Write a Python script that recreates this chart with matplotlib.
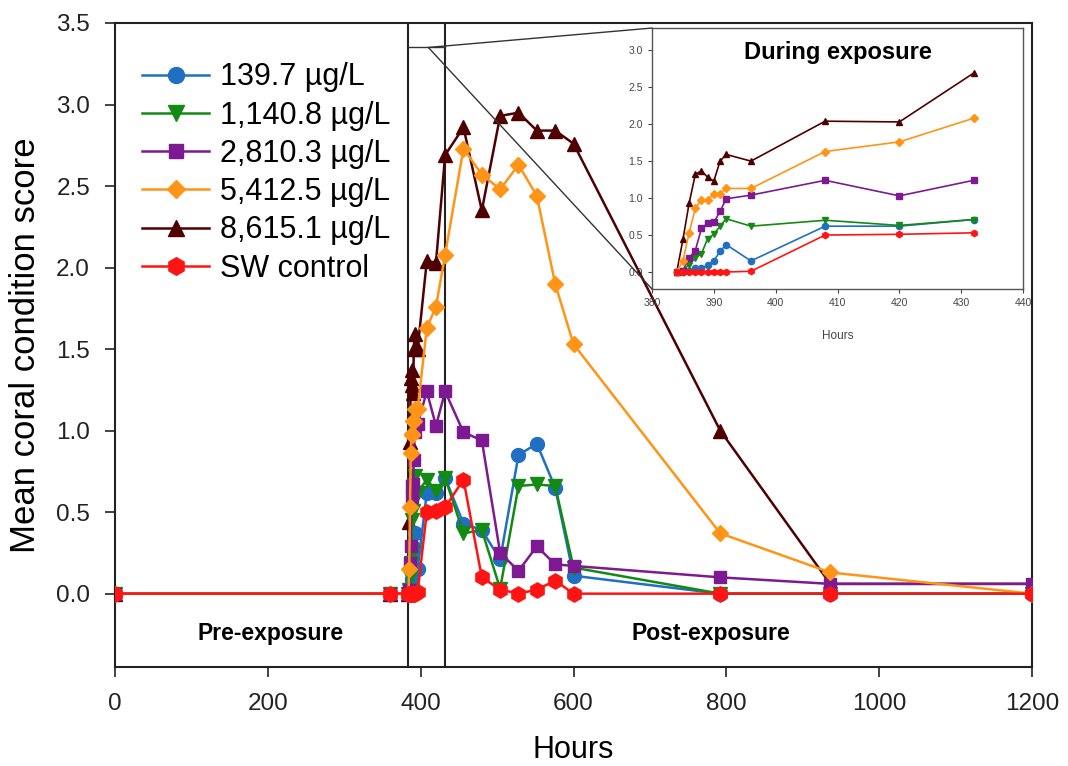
import numpy as np
import matplotlib
matplotlib.use("Agg")
import matplotlib.pyplot as plt
from matplotlib.patches import ConnectionPatch

plt.rcParams['font.family'] = ['Liberation Sans', 'DejaVu Sans']

# sampling times (h)
hours = np.array([0, 360, 384, 385, 386, 387, 388, 389, 390, 391, 392, 396, 408,
                  420, 432, 456, 480, 504, 528, 552, 576, 600, 792, 936, 1200])

blue = [0, 0, 0, 0, 0.02, 0.05, 0.05, 0.09, 0.15, 0.28, 0.37, 0.15, 0.62,
        0.62, 0.71, 0.43, 0.39, 0.21, 0.85, 0.92, 0.65, 0.11, 0, 0, 0]
green = [0, 0, 0, 0.02, 0.10, 0.19, 0.25, 0.45, 0.51, 0.62, 0.72, 0.62, 0.70,
         0.63, 0.71, 0.37, 0.39, 0.03, 0.66, 0.67, 0.66, 0.16, 0, 0, 0]
purple = [0, 0, 0, 0.02, 0.19, 0.29, 0.59, 0.66, 0.67, 0.82, 0.99, 1.04, 1.24,
          1.03, 1.24, 0.99, 0.94, 0.25, 0.14, 0.29, 0.18, 0.17, 0.10, 0.06, 0.06]
orange = [0, 0, 0, 0.15, 0.53, 0.86, 0.98, 0.97, 1.06, 1.06, 1.13, 1.13, 1.63,
          1.76, 2.08, 2.73, 2.57, 2.48, 2.63, 2.44, 1.90, 1.53, 0.37, 0.13, 0]
brown = [0, 0, 0, 0.44, 0.93, 1.32, 1.37, 1.28, 1.23, 1.50, 1.59, 1.50, 2.04,
         2.03, 2.69, 2.86, 2.35, 2.93, 2.95, 2.84, 2.84, 2.76, 1.00, 0.06, 0.06]
red = [0, 0, 0, 0, 0, 0, 0, 0, 0, 0, 0, 0.01, 0.50,
       0.51, 0.53, 0.70, 0.10, 0.025, 0, 0.025, 0.08, 0, 0, 0, 0]

labels = ['139.7 µg/L', '1,140.8 µg/L', '2,810.3 µg/L', '5,412.5 µg/L',
          '8,615.1 µg/L', 'SW control']
series = [blue, green, purple, orange, brown, red]
colors = ['#1f6fc3', '#138a13', '#7d1a91', '#ff9416', '#4f0000', '#ff1414']
markers = ['o', 'v', 's', 'D', '^', 'h']
msizes = [10, 10, 9, 8, 10, 11]
zorders = [4, 5, 6, 7, 3, 8]

fig = plt.figure(figsize=(10.68, 7.66), dpi=100)
ax = fig.add_axes([0.1077, 0.1292, 0.8586, 0.8408])

for y, lab, c, m, ms, z in zip(series, labels, colors, markers, msizes, zorders):
    ax.plot(hours, y, color=c, marker=m, ms=ms, lw=1.8, label=lab, zorder=z,
            markeredgecolor=c)

ax.axvline(384, color='#222222', lw=1.5, zorder=2)
ax.axvline(432, color='#222222', lw=1.5, zorder=2)

ax.set_xlim(0, 1200)
ax.set_ylim(-0.45, 3.5)
ax.set_xticks([0, 200, 400, 600, 800, 1000, 1200])
ax.set_yticks(np.arange(0, 3.51, 0.5))
ax.yaxis.set_major_formatter(matplotlib.ticker.FormatStrFormatter('%.1f'))
ax.tick_params(direction='out', length=7, width=1.2, labelsize=17.5,
               colors='#222222')
ax.tick_params(axis='y', pad=11)
ax.tick_params(axis='x', pad=12)
for s in ax.spines.values():
    s.set_linewidth(1.5)
    s.set_color('#222222')
ax.set_xlabel('Hours', fontsize=22, labelpad=14)
ax.set_ylabel('Mean coral condition score', fontsize=25, labelpad=10)

ax.text(203, -0.245, 'Pre-exposure', fontsize=16.5, fontweight='bold',
        ha='center', va='center')
ax.text(780, -0.245, 'Post-exposure', fontsize=16.5, fontweight='bold',
        ha='center', va='center')

ax.legend(loc='upper left', bbox_to_anchor=(0.016, 0.958), frameon=False,
          fontsize=22, handlelength=2.2, labelspacing=0.27, handletextpad=0.35,
          borderaxespad=0, markerscale=1.15)

# zoom marker
ax.plot([384, 432], [3.35, 3.35], color='#333333', lw=1, zorder=2)

# inset
axin = fig.add_axes([0.6105, 0.6227, 0.3474, 0.3407])
during = (hours >= 384) & (hours <= 432)
for y, c, m, z in zip(series, colors, markers, zorders):
    axin.plot(hours[during], np.array(y)[during], color=c, marker=m, ms=4.5,
              lw=1.2, zorder=z, markeredgecolor=c)
axin.set_xlim(380, 440)
axin.set_ylim(-0.23, 3.3)
axin.set_xticks([380, 390, 400, 410, 420, 430, 440])
axin.set_yticks(np.arange(0, 3.01, 0.5))
axin.yaxis.set_major_formatter(matplotlib.ticker.FormatStrFormatter('%.1f'))
axin.tick_params(direction='out', length=3, width=0.8, labelsize=7.5,
                 colors='#444444')
for s in axin.spines.values():
    s.set_linewidth(1)
    s.set_color('#555555')
axin.set_xlabel('Hours', fontsize=8.5, color='#444444', labelpad=16)
axin.set_title('During exposure', fontsize=17, fontweight='bold', y=0.85)

for ya in (1, 0):
    con = ConnectionPatch(xyA=(410, 3.35), coordsA='data', axesA=ax,
                          xyB=(0, ya), coordsB='axes fraction', axesB=axin,
                          color='#333333', lw=1)
    fig.add_artist(con)

fig.savefig('out.png', dpi=100)
